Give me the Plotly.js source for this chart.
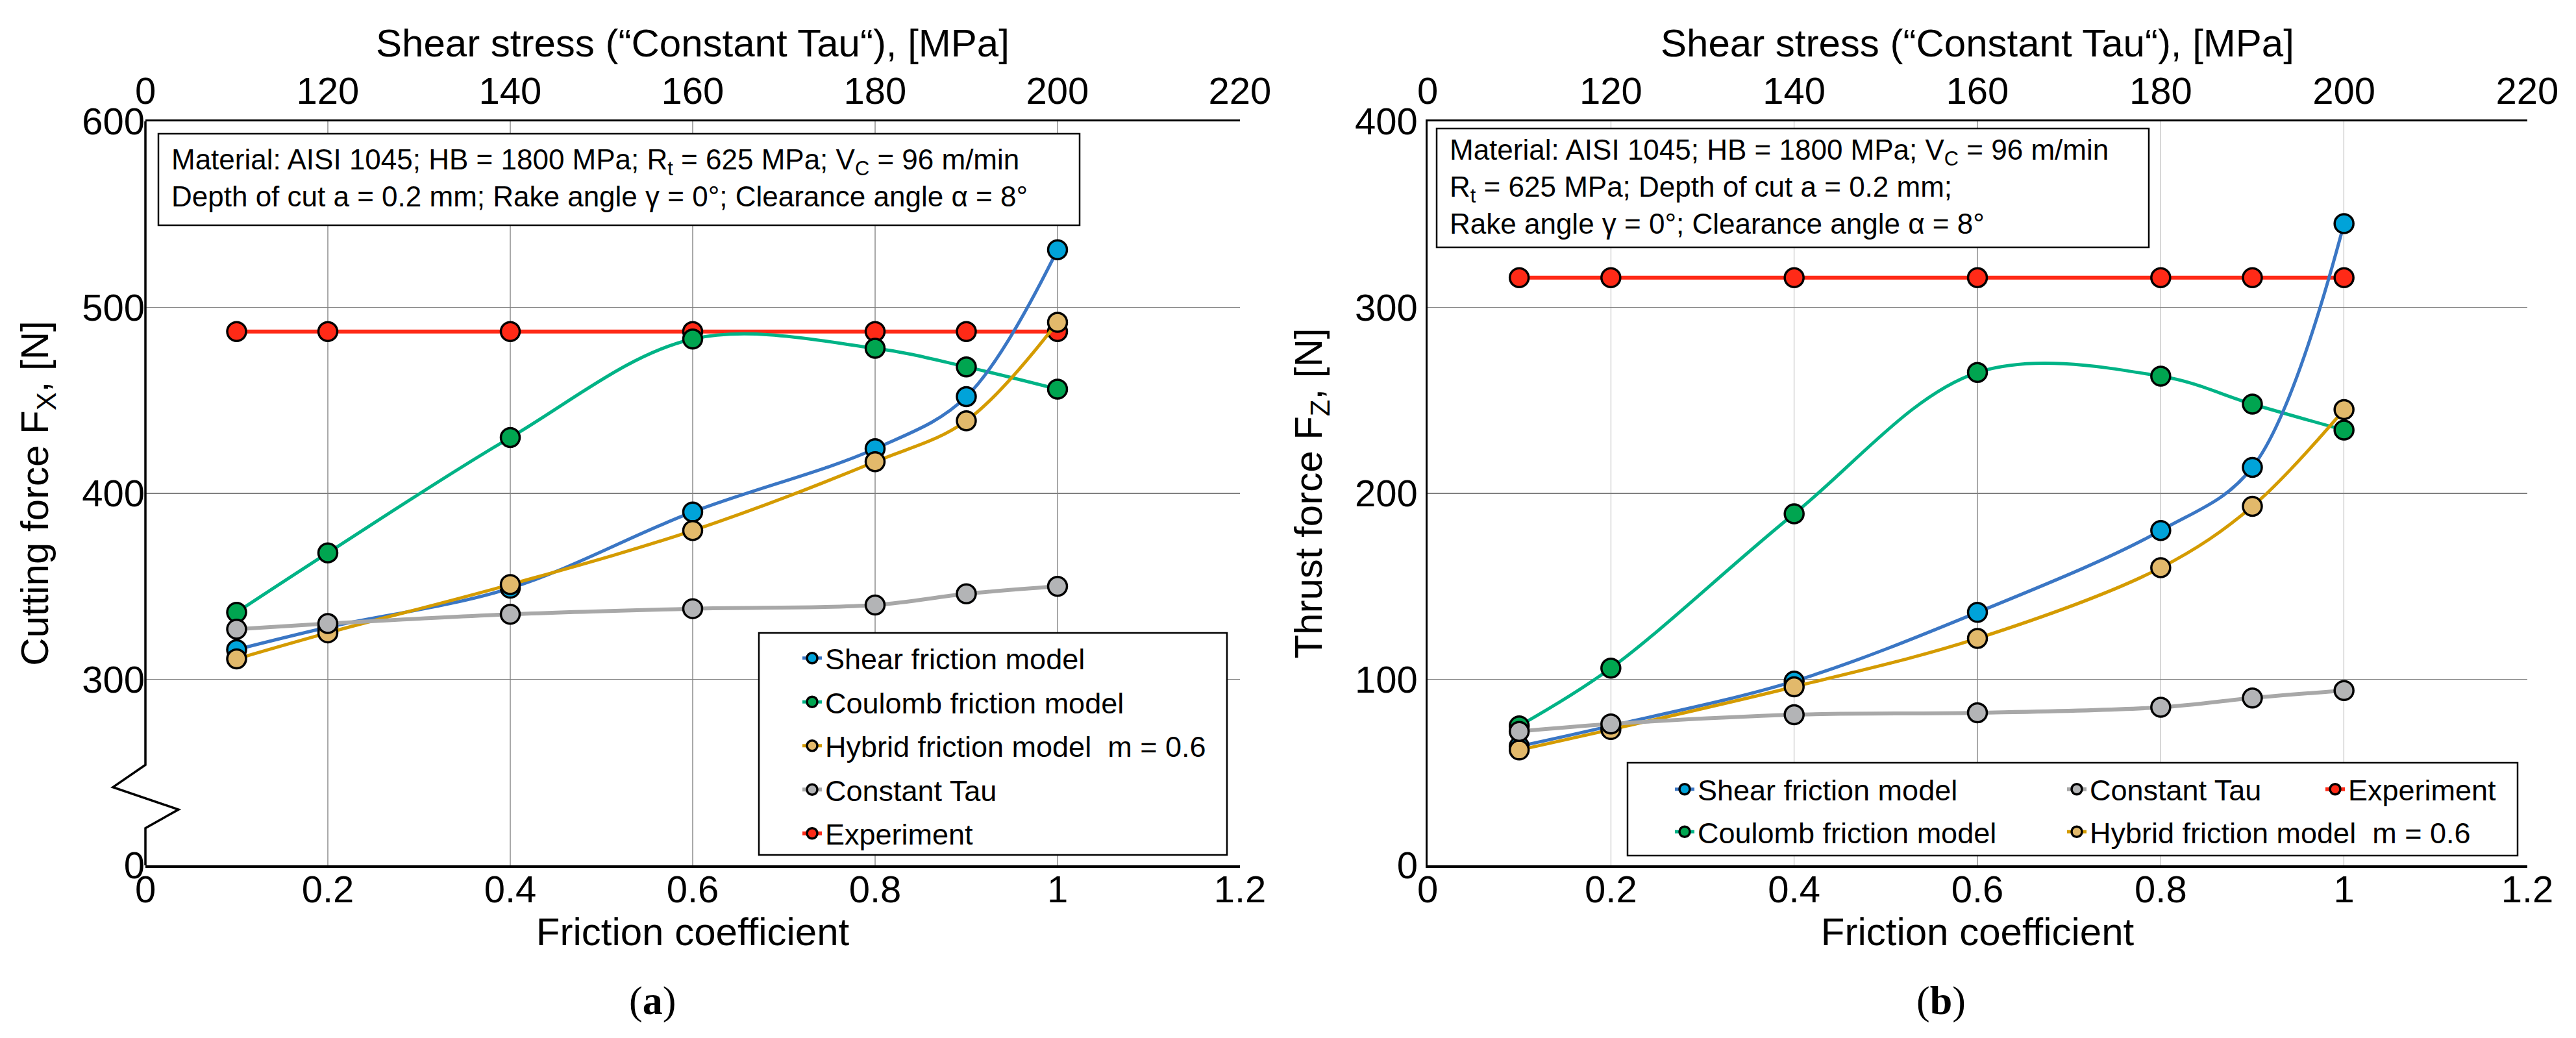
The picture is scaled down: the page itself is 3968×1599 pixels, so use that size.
<!DOCTYPE html>
<html>
<head>
<meta charset="utf-8">
<script src="https://cdn.plot.ly/plotly-3.0.1.min.js"></script>
<style>
  html, body { margin: 0; padding: 0; background: #ffffff; }
  #chart { width: 3968px; height: 1599px; }
</style>
</head>
<body>
<div id="chart"></div>
<script>
// friction coefficient values of the simulations
var frictionCoef = [0.1, 0.2, 0.4, 0.6, 0.8, 0.9, 1.0];

// axis ticks
var frictionTicks = [0, 0.2, 0.4, 0.6, 0.8, 1.0, 1.2];
var frictionTickText = ['0', '0.2', '0.4', '0.6', '0.8', '1', '1.2'];
var shearTickText = ['0', '120', '140', '160', '180', '200', '220'];
var fxTickVals = [200, 300, 400, 500, 600];
var fxTickText = ['0', '300', '400', '500', '600'];
var fzTickVals = [0, 100, 200, 300, 400];
var fzTickText = ['0', '100', '200', '300', '400'];

// (a) cutting force Fx, [N]
var fxShear      = [316, 328, 349, 390, 424, 452, 531];
var fxCoulomb    = [336, 368, 430, 483, 478, 468, 456];
var fxHybrid     = [311, 325, 351, 380, 417, 439, 492];
var fxConstTau   = [327, 330, 335, 338, 340, 346, 350];
var fxExperiment = [487, 487, 487, 487, 487, 487, 487];

// (b) thrust force Fz, [N]
var fzShear      = [64, 75, 99, 136, 180, 214, 345];
var fzCoulomb    = [75, 106, 189, 265, 263, 248, 234];
var fzHybrid     = [62, 73, 96, 122, 160, 193, 245];
var fzConstTau   = [72, 76, 81, 82, 85, 90, 94];
var fzExperiment = [316, 316, 316, 316, 316, 316, 316];

var W = 3968, H = 1599;
var FONT = 'Liberation Sans, Arial, Helvetica, sans-serif';

// pixel -> paper helpers
function px(p) { return p / W; }
function py(p) { return 1 - p / H; }

var leftDom = [px(224), px(1910)];
var rightDom = [px(2199), px(3893)];
var yDom = [py(1333), py(187)];

var styles = {
    shear:    { name: 'Shear friction model',   line: '#3a76c4', fill: '#00a3d9', lw: 5 },
    coulomb:  { name: 'Coulomb friction model', line: '#00b386', fill: '#00a550', lw: 5 },
    hybrid:   { name: 'Hybrid friction model\u00a0 m = 0.6', line: '#d49b00', fill: '#e2b96b', lw: 5 },
    constTau: { name: 'Constant Tau',           line: '#a8a8a8', fill: '#b3b4b6', lw: 6 },
    exp:      { name: 'Experiment',             line: '#ff2a17', fill: '#ff2a17', lw: 6 }
};

function makeTrace(key, y, xa, ya, legend, rank) {
    var s = styles[key];
    return {
        type: 'scatter',
        mode: 'lines+markers',
        x: frictionCoef,
        y: y,
        xaxis: xa,
        yaxis: ya,
        name: s.name,
        legend: legend,
        legendgroup: key + ya,
        legendrank: rank,
        line: { color: s.line, width: s.lw, shape: 'spline', smoothing: 1 },
        marker: { size: 29, color: s.fill, line: { color: '#000000', width: 3.5 } },
        cliponaxis: false
    };
}

// invisible carrier so the top (shear stress) axis gets drawn
function carrier(xa, ya, y) {
    return {
        type: 'scatter', mode: 'markers', x: frictionCoef, y: y,
        xaxis: xa, yaxis: ya, marker: { opacity: 0 },
        showlegend: false, hoverinfo: 'skip'
    };
}

// drawing order: experiment at the bottom, constant tau on top
var data = [
    makeTrace('exp', fxExperiment, 'x', 'y', 'legend', 5),
    makeTrace('coulomb', fxCoulomb, 'x', 'y', 'legend', 2),
    makeTrace('shear', fxShear, 'x', 'y', 'legend', 1),
    makeTrace('hybrid', fxHybrid, 'x', 'y', 'legend', 3),
    makeTrace('constTau', fxConstTau, 'x', 'y', 'legend', 4),
    carrier('x2', 'y', fxExperiment),

    makeTrace('exp', fzExperiment, 'x3', 'y2', 'legend4', 1),
    makeTrace('coulomb', fzCoulomb, 'x3', 'y2', 'legend2', 2),
    makeTrace('shear', fzShear, 'x3', 'y2', 'legend2', 1),
    makeTrace('hybrid', fzHybrid, 'x3', 'y2', 'legend3', 2),
    makeTrace('constTau', fzConstTau, 'x3', 'y2', 'legend3', 1),
    carrier('x4', 'y2', fzExperiment)
];

function bottomAxis(domain, anchor) {
    return {
        domain: domain,
        anchor: anchor,
        range: [0, 1.2],
        tickvals: frictionTicks,
        ticktext: frictionTickText,
        ticks: '',
        ticklabelstandoff: -16,
        showgrid: true,
        gridcolor: '#a9a9a9',
        gridwidth: 1.5,
        zeroline: false,
        showline: true,
        linecolor: '#000000',
        linewidth: 3.5,
        tickfont: { family: FONT, size: 58, color: '#000000' },
        title: { text: 'Friction coefficient', font: { family: FONT, size: 60, color: '#000000' }, standoff: 4 },
        automargin: false,
        fixedrange: true
    };
}

function topAxis(overlay, anchor) {
    return {
        overlaying: overlay,
        anchor: anchor,
        side: 'top',
        range: [0, 1.2],
        tickvals: frictionTicks,
        ticktext: shearTickText,
        ticks: '',
        showgrid: false,
        zeroline: false,
        showline: true,
        linecolor: '#000000',
        linewidth: 3.5,
        tickfont: { family: FONT, size: 58, color: '#000000' },
        automargin: false,
        fixedrange: true
    };
}

function sideAxis(anchor, range, vals, text, title, showline) {
    return {
        domain: yDom,
        anchor: anchor,
        range: range,
        tickvals: vals,
        ticktext: text,
        ticks: '',
        showgrid: true,
        gridcolor: '#808080',
        gridwidth: 1.5,
        zeroline: false,
        showline: showline,
        linecolor: '#000000',
        linewidth: 3.5,
        tickfont: { family: FONT, size: 58, color: '#000000' },
        title: { text: title, font: { family: FONT, size: 60, color: '#000000' }, standoff: 32 },
        automargin: false,
        fixedrange: true
    };
}

// left axis break (zigzag) in paper coordinates
function lx(f) { return leftDom[0] + f * (leftDom[1] - leftDom[0]) / 1.2; }
function ly(v) { return yDom[0] + (v - 200) / 400 * (yDom[1] - yDom[0]); }

var frame = { color: '#000000', width: 2.5 };
var shapes = [
    // white patch hiding the x=0 gridline inside the break
    { type: 'rect', xref: 'paper', yref: 'paper', x0: lx(-0.003), x1: lx(0.003), y0: ly(219), y1: ly(255),
      fillcolor: '#ffffff', line: { width: 0 }, layer: 'above' },
    { type: 'path', xref: 'paper', yref: 'paper', layer: 'above',
      path: 'M' + lx(0) + ',' + ly(600) + ' L' + lx(0) + ',' + ly(254) +
            ' L' + lx(-0.0356) + ',' + ly(242) + ' L' + lx(0.0363) + ',' + ly(230) +
            ' L' + lx(0) + ',' + ly(220) + ' L' + lx(0) + ',' + ly(200),
      line: { color: '#000000', width: 3.5 } },
    // info boxes
    { type: 'rect', xref: 'paper', yref: 'paper', x0: px(244), x1: px(1663), y0: py(347), y1: py(206),
      fillcolor: '#ffffff', line: frame, layer: 'above' },
    { type: 'rect', xref: 'paper', yref: 'paper', x0: px(2213), x1: px(3310), y0: py(381), y1: py(198),
      fillcolor: '#ffffff', line: frame, layer: 'above' },
    // legend frames
    { type: 'rect', xref: 'paper', yref: 'paper', x0: px(1169), x1: px(1890), y0: py(1317), y1: py(975),
      fillcolor: '#ffffff', line: frame, layer: 'above' },
    { type: 'rect', xref: 'paper', yref: 'paper', x0: px(2507), x1: px(3878), y0: py(1318), y1: py(1175),
      fillcolor: '#ffffff', line: frame, layer: 'above' }
];

var boxFont = { family: FONT, size: 44, color: '#000000' };
var annotations = [
    { xref: 'paper', yref: 'paper', x: px(1067), y: py(66), xanchor: 'center', yanchor: 'middle', showarrow: false,
      text: 'Shear stress (\u201cConstant Tau\u201c), [MPa]', font: { family: FONT, size: 60, color: '#000000' } },
    { xref: 'paper', yref: 'paper', x: px(3046), y: py(66), xanchor: 'center', yanchor: 'middle', showarrow: false,
      text: 'Shear stress (\u201cConstant Tau\u201c), [MPa]', font: { family: FONT, size: 60, color: '#000000' } },
    { xref: 'paper', yref: 'paper', x: px(262), y: py(274), xanchor: 'left', yanchor: 'middle', align: 'left', showarrow: false,
      text: 'Material: AISI 1045; HB = 1800 MPa; R<sub>t</sub> = 625 MPa; V<sub>C</sub> = 96 m/min<br>' +
            'Depth of cut a = 0.2 mm; Rake angle \u03b3 = 0\u00b0; Clearance angle \u03b1 = 8\u00b0',
      font: boxFont },
    { xref: 'paper', yref: 'paper', x: px(2231), y: py(288), xanchor: 'left', yanchor: 'middle', align: 'left', showarrow: false,
      text: 'Material: AISI 1045; HB = 1800 MPa; V<sub>C</sub> = 96 m/min<br>' +
            'R<sub>t</sub> = 625 MPa; Depth of cut a = 0.2 mm;<br>' +
            'Rake angle \u03b3 = 0\u00b0; Clearance angle \u03b1 = 8\u00b0',
      font: boxFont },
    { xref: 'paper', yref: 'paper', x: px(1005), y: py(1541), xanchor: 'center', yanchor: 'middle', showarrow: false,
      text: '(<b>a</b>)', font: { family: 'Liberation Serif, Times New Roman, serif', size: 62, color: '#000000' } },
    { xref: 'paper', yref: 'paper', x: px(2990), y: py(1541), xanchor: 'center', yanchor: 'middle', showarrow: false,
      text: '(<b>b</b>)', font: { family: 'Liberation Serif, Times New Roman, serif', size: 62, color: '#000000' } }
];

function legendAt(x, y, gap) {
    return {
        x: x, y: y, xanchor: 'left', yanchor: 'top',
        orientation: 'v',
        bgcolor: 'rgba(0,0,0,0)',
        borderwidth: 0,
        tracegroupgap: gap,
        font: { family: FONT, size: 45, color: '#000000' },
        itemclick: false,
        itemdoubleclick: false
    };
}

var layout = {
    width: W,
    height: H,
    margin: { l: 0, r: 0, t: 0, b: 0 },
    paper_bgcolor: '#ffffff',
    plot_bgcolor: '#ffffff',
    font: { family: FONT, color: '#000000' },
    xaxis: bottomAxis(leftDom, 'y'),
    xaxis2: topAxis('x', 'y'),
    yaxis: sideAxis('x', [200, 600], fxTickVals, fxTickText, 'Cutting force F<sub>X</sub>, [N]', false),
    xaxis3: bottomAxis(rightDom, 'y2'),
    xaxis4: topAxis('x3', 'y2'),
    yaxis2: sideAxis('x3', [0, 400], fzTickVals, fzTickText, 'Thrust force F<sub>Z</sub>, [N]', true),
    showlegend: true,
    legend: legendAt(px(1231), py(978), 6),
    legend2: legendAt(px(2575), py(1180), 4),
    legend3: legendAt(px(3179), py(1180), 4),
    legend4: legendAt(px(3577), py(1180), 4),
    shapes: shapes,
    annotations: annotations,
    hovermode: false
};

var config = { displayModeBar: false, staticPlot: true };
Plotly.newPlot('chart', data, layout, config);
</script>
</body>
</html>
